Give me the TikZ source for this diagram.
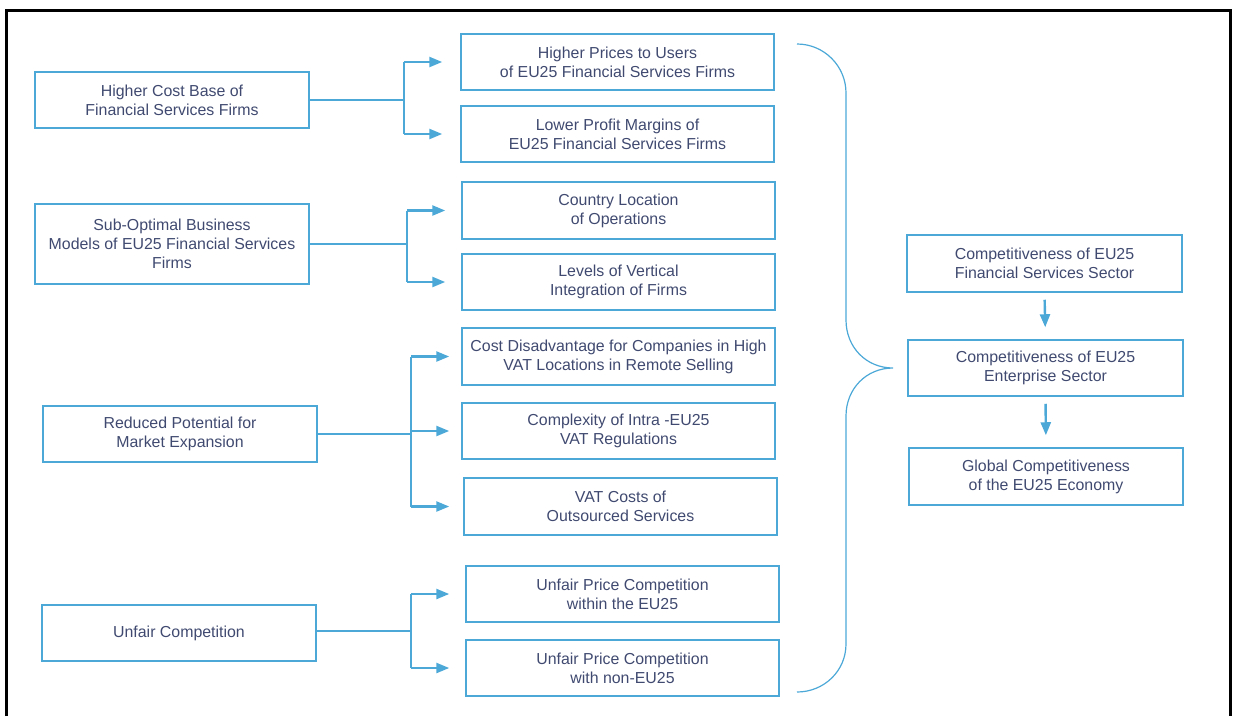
\documentclass[tikz,border=0pt]{standalone}
\usepackage{fontspec}
\setmainfont{Liberation Sans}
\usetikzlibrary{arrows.meta}
\definecolor{boxblue}{RGB}{75,168,215}
\definecolor{txt}{RGB}{64,74,112}
\begin{document}
\begin{tikzpicture}[x=1pt,y=-1pt,
 box/.style={draw=boxblue,line width=1.5pt,inner sep=0pt,align=center,text=txt,
   font=\fontsize{15.9}{19}\selectfont,minimum width=313pt,minimum height=56pt},
 lbox/.style={box,minimum width=274pt},
 link/.style={draw=boxblue,line width=1.3pt},
 arr/.style={draw=boxblue,line width=2.4pt,-{Triangle[length=13pt,width=10pt]},shorten >=#1},
 arr/.default=16pt,
 down/.style={draw=boxblue,line width=2.4pt,-{Triangle[length=13pt,width=10pt]},shorten >=12pt,shorten <=7pt},
 ]
\path[use as bounding box] (0,0) rectangle (1234,716);
\draw[line width=3pt] (6.5,716) -- (6.5,10.5) -- (1230,10.5) -- (1230,716);

% left column
\node[lbox] (L1) at (172,100) {Higher Cost Base of\\Financial Services Firms};
\node[lbox,minimum height=80pt] (L2) at (172,244) {Sub-Optimal Business\\Models of EU25 Financial Services\\Firms};
\node[lbox] (L3) at (180,434) {Reduced Potential for\\Market Expansion};
\node[lbox] (L4) at (179,633) {Unfair Competition};

% middle column
\node[box] (M1) at (617.5,62) {Higher Prices to Users\\of EU25 Financial Services Firms};
\node[box] (M2) at (617.5,134) {Lower Profit Margins of\\EU25 Financial Services Firms};
\node[box,minimum height=57pt] (M3) at (618.5,210.5) {Country Location\\of Operations};
\node[box] (M4) at (618.5,282) {Levels of Vertical\\Integration of Firms};
\node[box,minimum height=57pt] (M5) at (618.5,356.5) {Cost Disadvantage for Companies in High\\VAT Locations in Remote Selling};
\node[box] (M6) at (618.5,431) {Complexity of Intra -EU25\\VAT Regulations};
\node[box,minimum height=57pt] (M7) at (620.5,506.5) {VAT Costs of\\Outsourced Services};
\node[box] (M8) at (622.5,594) {Unfair Price Competition\\within the EU25};
\node[box] (M9) at (622.5,668) {Unfair Price Competition\\with non-EU25};

% right column
\node[box,minimum width=275pt,minimum height=57pt] (R1) at (1044.5,263.5) {Competitiveness of EU25\\Financial Services Sector};
\node[box,minimum width=275pt] (R2) at (1045.5,368) {Competitiveness of EU25\\Enterprise Sector};
\node[box,minimum width=274pt,minimum height=57pt] (R3) at (1046,476.5) {Global Competitiveness\\of the EU25 Economy};

% junctions
\coordinate (J1) at (404,100);
\coordinate (J2) at (407,244);
\coordinate (J3) at (411,434);
\coordinate (J4) at (411,631);

\draw[link] (L1.east) -- (J1);
\draw[link] (J1 |- M1.west) -- (J1 |- M2.west);
\draw[arr=18pt] (J1 |- M1.west) -- (M1.west);
\draw[arr=18pt] (J1 |- M2.west) -- (M2.west);

\draw[link] (L2.east) -- (J2);
\draw[link] (J2 |- M3.west) -- (J2 |- M4.west);
\draw[arr] (J2 |- M3.west) -- (M3.west);
\draw[arr] (J2 |- M4.west) -- (M4.west);

\draw[link] (L3.east) -- (J3);
\draw[link] (J3 |- M5.west) -- (J3 |- M7.west);
\draw[arr=12pt] (J3 |- M5.west) -- (M5.west);
\draw[arr=12pt] (J3 |- M6.west) -- (M6.west);
\draw[arr=14pt] (J3 |- M7.west) -- (M7.west);

\draw[link] (L4.east |- J4) -- (J4);
\draw[link] (J4 |- M8.west) -- (J4 |- M9.west);
\draw[arr] (J4 |- M8.west) -- (M8.west);
\draw[arr] (J4 |- M9.west) -- (M9.west);

% brace
\coordinate (btop) at (797,44);
\coordinate (btip) at (893,368);
\coordinate (bbot) at (797,692);
\draw[draw=boxblue,line width=1.2pt] (btop) .. controls (824,44) and (846,66) .. (846,93)
  -- (846,320) .. controls (846,347) and (866,368) .. (btip)
  .. controls (866,368) and (846,389) .. (846,416)
  -- (846,644) .. controls (846,671) and (824,692) .. (bbot);

% right arrows
\draw[down] (R1.south) -- (R2.north);
\draw[down] (R2.south) -- (R3.north);
\end{tikzpicture}
\end{document}
